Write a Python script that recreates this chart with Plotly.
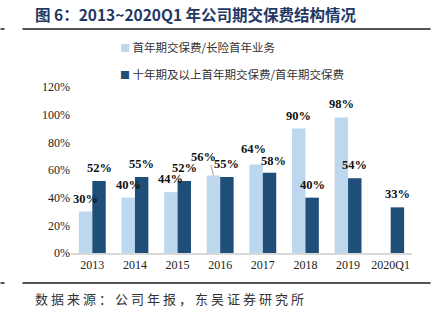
import plotly.graph_objects as go

categories = ["2013", "2014", "2015", "2016", "2017", "2018", "2019", "2020Q1"]
light_vals = [30, 40, 44, 56, 64, 90, 98, None]
dark_vals = [52, 55, 52, 55, 58, 40, 54, 33]
light_name = "首年期交保费/长险首年业务"
dark_name = "十年期及以上首年期交保费/首年期交保费"
y_ticks = [0, 20, 40, 60, 80, 100, 120]
y_tick_text = [f"{v}%" for v in y_ticks]

# label nudges (pixels) to mimic the reference placement, kept apart from data
light_label_dx = [0, 0, 0, -10, -3, 0, 0, 0]
light_label_dy = [13, 13, 13, 19, 15, 13, 13, 13]
dark_label_dx = [0, 0, 0, 0, 4, 0, 0, 0]
dark_label_dy = [13, 13, 13, 13, 12, 13, 13, 13]

light_color = "#BDD7EE"
dark_color = "#1F4E79"

W, H = 436, 323
L, R, T, B = 70.6, 23.6, 87, 70
pw, ph = W - L - R, H - T - B

def px(x):
    return (x - L) / pw

def py(y):
    return (H - B - y) / ph

bargap = 0.37
half_bar = pw / len(categories) * (1 - bargap) / 4  # center offset of each bar in group

label_font = dict(family="Liberation Serif, Times New Roman, serif", size=12.5, color="#111111")

fig = go.Figure()
fig.add_trace(go.Bar(
    x=categories, y=light_vals, name=light_name,
    marker=dict(color=light_color, line=dict(width=0)), showlegend=False,
))
fig.add_trace(go.Bar(
    x=categories, y=dark_vals, name=dark_name,
    marker=dict(color=dark_color, line=dict(width=0)), showlegend=False,
))

annotations = []
for vals, sign, dxs, dys in ((light_vals, -1, light_label_dx, light_label_dy),
                             (dark_vals, 1, dark_label_dx, dark_label_dy)):
    for i, (v, dx, dy) in enumerate(zip(vals, dxs, dys)):
        if v is None:
            continue
        annotations.append(dict(
            x=i, y=v, xref="x", yref="y", text=f"<b>{v}%</b>",
            xshift=sign * half_bar + dx, yshift=dy,
            xanchor="center", yanchor="middle", showarrow=False, font=label_font))

# leader line for the displaced 2016 label
idx16 = categories.index("2016")
annotations.append(dict(
    x=idx16, y=light_vals[idx16], xref="x", yref="y", text="",
    xshift=-half_bar, ax=-3, ay=-12, axref="pixel", ayref="pixel",
    showarrow=True, arrowhead=0, arrowwidth=0.8, arrowcolor="#8c8c8c", standoff=0))

line_color = "#1a1a1a"
shapes = []
for yy in (29, 283):
    shapes.append(dict(type="line", xref="paper", yref="paper",
                       x0=px(22), x1=px(431), y0=py(yy), y1=py(yy),
                       line=dict(color=line_color, width=1.5)))
    shapes.append(dict(type="line", xref="paper", yref="paper",
                       x0=px(0), x1=px(4), y0=py(yy), y1=py(yy),
                       line=dict(color=line_color, width=1.5)))

legend_font = dict(family="Noto Sans CJK SC", size=11.5, color="#333333")
annotations += [
    dict(text="<b>图 6：2013~2020Q1 年公司期交保费结构情况</b>", xref="paper", yref="paper",
         x=px(33), y=py(14), xanchor="left", yanchor="middle", showarrow=False,
         font=dict(family="Noto Sans CJK SC", size=15.5, color="#1F3864")),
    dict(text="<span style='letter-spacing:3px'>数据来源：公司年报，东吴证券研究所</span>",
         xref="paper", yref="paper",
         x=px(33), y=py(298), xanchor="left", yanchor="middle", showarrow=False,
         font=dict(family="Noto Sans CJK SC", size=13, color="#333333")),
]
for yy, nm, col in ((47, light_name, light_color), (74, dark_name, dark_color)):
    annotations.append(dict(
        text=f"<span style='color:{col}; font-size:10px'>■</span> {nm}",
        xref="paper", yref="paper", x=px(118), y=py(yy),
        xanchor="left", yanchor="middle", showarrow=False, font=legend_font))

fig.update_layout(
    width=W, height=H,
    margin=dict(l=L, r=R, t=T, b=B, pad=0),
    paper_bgcolor="white", plot_bgcolor="white",
    barmode="group", bargap=bargap, bargroupgap=0,
    showlegend=False,
    xaxis=dict(type="category", categoryorder="array", categoryarray=categories,
               range=[-0.5, len(categories) - 0.5], autorange=False,
               showgrid=False, showline=True, linecolor="#D9D9D9", linewidth=1.5,
               ticks="", tickfont=dict(family="Liberation Serif, Times New Roman, serif", size=12, color="#222222")),
    yaxis=dict(range=[0, 120], autorange=False, tickvals=y_ticks, ticktext=y_tick_text, showgrid=False,
               showline=False, zeroline=False, ticks="", ticklen=0,
               tickfont=dict(family="Liberation Serif, Times New Roman, serif", size=12, color="#222222")),
    shapes=shapes, annotations=annotations,
)

fig.write_html("out.html")
